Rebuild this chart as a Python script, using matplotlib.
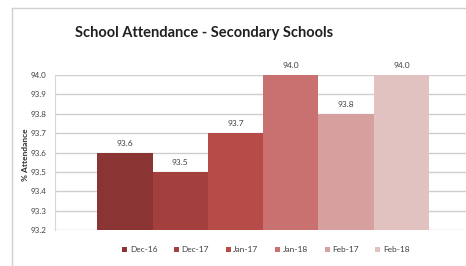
import matplotlib
matplotlib.use('agg')
import matplotlib.pyplot as plt
from matplotlib.lines import Line2D

months = ['Dec-16', 'Dec-17', 'Jan-17', 'Jan-18', 'Feb-17', 'Feb-18']
attendance = [93.6, 93.5, 93.7, 94.0, 93.8, 94.0]
colours = ['#8a3533', '#a3403d', '#b64b48', '#c87170', '#d6a09f', '#e2c1c1']

plt.rcParams['font.family'] = ['Lato', 'DejaVu Sans']

fig = plt.figure(figsize=(4.66, 2.66), dpi=100)
ax = fig.add_axes([55/466, 1 - 230/266, 1 - 55/466, (230 - 75)/266])

# outer frame like the exported chart box
fig.add_artist(Line2D([12/466, 12/466], [0, 1 - 8/266], color='#d0d0d0', lw=1))
fig.add_artist(Line2D([12/466, 1], [1 - 8/266, 1 - 8/266], color='#d0d0d0', lw=1))

handles = []
for i, (m, v, c) in enumerate(zip(months, attendance, colours)):
    b = ax.bar(i, v - 93.2, bottom=93.2, width=1.0, color=c, label=m, zorder=2)
    handles.append(b)
    ax.text(i, v + 0.03, f'{v:.1f}', ha='center', va='bottom', fontsize=6, color='#404040')

ax.set_ylim(93.2, 94.0)
ax.set_xlim(-1.266, 6.17)
ax.set_yticks([93.2 + 0.1 * k for k in range(9)])
ax.set_yticklabels([f'{93.2 + 0.1 * k:.1f}' for k in range(9)], fontsize=5.8, color='#404040')
ax.set_xticks([])
ax.yaxis.grid(True, color='#cfcfcf', lw=1, zorder=0)
ax.tick_params(axis='y', length=0, pad=6)
for s in ax.spines.values():
    s.set_visible(False)
ax.spines['left'].set_visible(True)
ax.spines['left'].set_color('#d8d8d8')

fig.text(25/466, 1 - 155/266, '% Attendance', rotation=90, ha='center', va='center',
         fontsize=6, fontweight='bold', color='#303030')
fig.text(75/466, 1 - 33/266, 'School Attendance - Secondary Schools', ha='left', va='center',
         fontsize=10.5, fontweight='bold', color='#202020')

fig.legend(handles=handles, labels=months, loc='center', bbox_to_anchor=(266/466, 1 - 250/266),
           ncol=6, frameon=False, fontsize=6, handlelength=0.6, handleheight=0.6,
           handletextpad=0.3, columnspacing=2.0, labelcolor='#404040')

fig.savefig('out.png', dpi=100)
